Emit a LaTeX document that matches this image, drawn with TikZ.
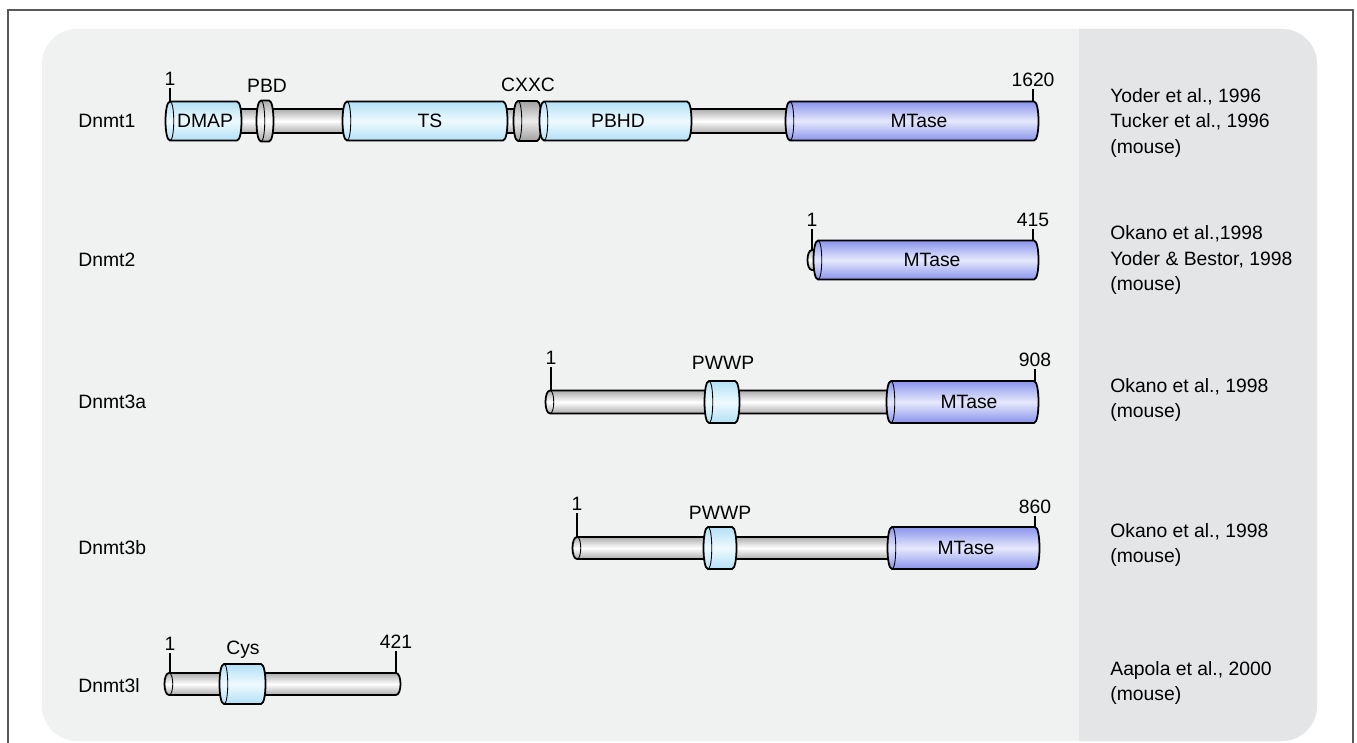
\documentclass[tikz,border=0pt]{standalone}
\usepackage{fontspec}
\setmainfont{Liberation Sans}
\usepackage{tikz}

\definecolor{panelbg}{RGB}{240,241,241}
\definecolor{refbg}{RGB}{227,229,231}
\definecolor{rodedge}{RGB}{172,172,172}
\definecolor{domedge}{RGB}{178,224,246}
\definecolor{domhi}{RGB}{238,250,255}
\definecolor{mtedge}{RGB}{138,148,236}
\definecolor{mthi}{RGB}{230,233,252}
\definecolor{ringedge}{RGB}{160,160,160}

% one piece of a protein tube: x1, x2, y centre, half height, style
\newcommand{\tubepiece}[5]{%
  \draw[#5] (#1,#3-#4) -- (#2,#3-#4) .. controls (#2+6,#3-#4) and (#2+6,#3+#4) .. (#2,#3+#4)
    -- (#1,#3+#4) .. controls (#1-6,#3+#4) and (#1-6,#3-#4) .. cycle;
  \draw[line width=0.5pt] (#1,#3-#4) .. controls (#1+5,#3-#4) and (#1+5,#3+#4) .. (#1,#3+#4);}

\begin{document}
\begin{tikzpicture}[x=0.02cm, y=-0.02cm,
    every node/.style={font=\fontsize{11}{14.7}\selectfont, inner sep=1pt},
    rod/.style={line width=1pt, top color=rodedge, bottom color=rodedge, middle color=white},
    ring/.style={line width=1pt, top color=ringedge, bottom color=ringedge, middle color=gray!15},
    dom/.style={line width=1pt, top color=domedge, bottom color=domedge, middle color=domhi},
    mtase/.style={line width=1pt, top color=mtedge, bottom color=mtedge, middle color=mthi},
    gene/.style={anchor=west, inner sep=0pt},
    num/.style={anchor=south},
    tick/.style={line width=0.8pt},
    refs/.style={anchor=west, align=left, inner sep=0pt}]
  \useasboundingbox (0,0) rectangle (1357,743);
  \fill[white] (0,0) rectangle (1357,743);
  % frame and panels
  \draw[gray!70!black, line width=0.6pt] (8,760) -- (8,10) -- (1353,10) -- (1353,760);
  \fill[panelbg, rounded corners=20] (42,29) rectangle (1317,741);
  \begin{scope}
    \clip (1079,0) rectangle (1357,743);
    \fill[refbg, rounded corners=20] (42,29) rectangle (1317,741);
  \end{scope}

  % Dnmt1
  \node[gene] (g1) at (78,121) {Dnmt1};
  \tubepiece{230}{792}{121}{12}{rod}
  \tubepiece{170}{237}{121}{19.5}{dom}
  \tubepiece{261}{269}{121}{20.5}{rod}
  \tubepiece{347}{503}{121}{19.5}{dom}
  \tubepiece{518}{537}{121}{20}{ring}
  \tubepiece{544}{687}{121}{19.5}{dom}
  \tubepiece{790}{1034}{121}{19.5}{mtase}
  \node (dmap) at (205,121) {DMAP};
  \node (ts) at (430,121) {TS};
  \node (pbhd) at (618,121) {PBHD};
  \node (mt1) at (919,121) {MTase};
  \node (pbd) at (267,86) {PBD};
  \node (cxxc) at (528,85) {CXXC};
  \node[num] (s1) at (170,88) {1};
  \node[num] (e1) at (1033,89) {1620};
  \draw[tick] (s1.south) -- ++(0,14);
  \draw[tick] (e1.south) -- ++(0,13);

  % Dnmt2
  \node[gene] (g2) at (78,260) {Dnmt2};
  \tubepiece{812}{822}{260}{10}{rod}
  \tubepiece{818}{1034}{260}{19.5}{mtase}
  \node (mt2) at (932,260) {MTase};
  \node[num] (s2) at (812,229) {1};
  \node[num] (e2) at (1033,229) {415};
  \draw[tick] (s2.south) -- ++(0,21);
  \draw[tick] (e2.south) -- ++(0,12);

  % Dnmt3a
  \node[gene] (g3) at (78,402) {Dnmt3a};
  \tubepiece{550}{893}{402}{11.5}{rod}
  \tubepiece{709}{735}{402}{21}{dom}
  \tubepiece{891}{1034}{402}{21}{mtase}
  \node (mt3) at (969,402) {MTase};
  \node (pw3) at (723,363) {PWWP};
  \node[num] (s3) at (551,367) {1};
  \node[num] (e3) at (1035,369) {908};
  \draw[tick] (s3.south) -- ++(0,24);
  \draw[tick] (e3.south) -- ++(0,12);

  % Dnmt3b
  \node[gene] (g4) at (78,548) {Dnmt3b};
  \tubepiece{577}{893}{548}{11}{rod}
  \tubepiece{708}{732}{548}{21}{dom}
  \tubepiece{892}{1035}{548}{21}{mtase}
  \node (mt4) at (966,548) {MTase};
  \node (pw4) at (720,513) {PWWP};
  \node[num] (s4) at (577,513) {1};
  \node[num] (e4) at (1035,516) {860};
  \draw[tick] (s4.south) -- ++(0,24);
  \draw[tick] (e4.south) -- ++(0,11);

  % Dnmt3l
  \node[gene] (g5) at (78,686) {Dnmt3l};
  \tubepiece{169}{396}{684}{11}{rod}
  \tubepiece{224}{261}{684}{20}{dom}
  \node (cys) at (243,650) {Cys};
  \node[num] (s5) at (170,653) {1};
  \node[num] (e5) at (396,651) {421};
  \draw[tick] (s5.south) -- ++(0,20);
  \draw[tick] (e5.south) -- ++(0,22);

  % references
  \node[refs] (r1) at (1110,123) {Yoder et al., 1996\\Tucker et al., 1996\\(mouse)};
  \node[refs] (r2) at (1110,260) {Okano et al.,1998\\Yoder \& Bestor, 1998\\(mouse)};
  \node[refs] (r3) at (1110,400) {Okano et al., 1998\\(mouse)};
  \node[refs] (r4) at (1110,545) {Okano et al., 1998\\(mouse)};
  \node[refs] (r5) at (1110,683) {Aapola et al., 2000\\(mouse)};
\end{tikzpicture}
\end{document}
